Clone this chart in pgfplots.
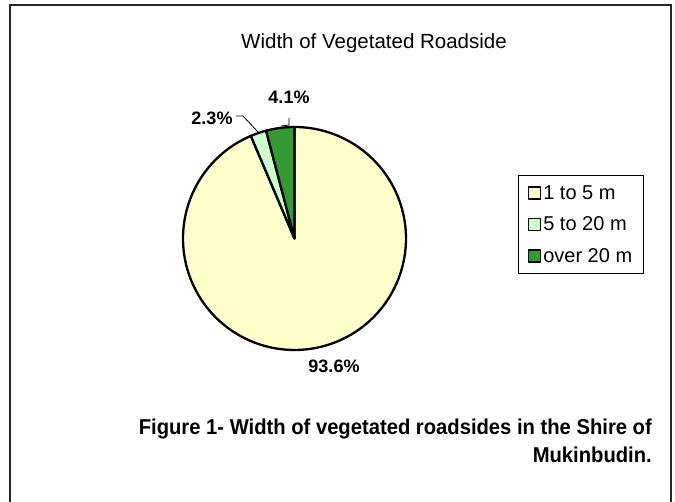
\documentclass[border=0pt]{standalone}
\usepackage{pgfplots}
\pgfplotsset{compat=1.18}
\usepackage{pgfplotstable}
\usepackage{fontspec}
\setmainfont{Liberation Sans}
\newfontfamily\capfont[FakeStretch=0.94]{Liberation Sans}

\definecolor{pieyellow}{HTML}{FFFFCC}
\definecolor{pielight}{HTML}{CCFFCC}
\definecolor{piedark}{HTML}{339933}

% share of roadside length in each width class (%)
\pgfplotstableread{
class value
A 93.6
B 2.3
C 4.1
}\widthdata

\begin{document}
\begin{tikzpicture}[x=1pt,y=1pt]
\useasboundingbox (0,0) rectangle (675,501);
\draw[line width=1.6pt, black!85] (10,496) rectangle (671,-10);

\pgfplotstablegetelem{0}{value}\of\widthdata \let\va\pgfplotsretval
\pgfplotstablegetelem{1}{value}\of\widthdata \let\vb\pgfplotsretval
\pgfplotstablegetelem{2}{value}\of\widthdata \let\vc\pgfplotsretval
% slices run clockwise from 12 o'clock
\pgfmathsetmacro\aEndA{90-3.6*\va}
\pgfmathsetmacro\aEndB{\aEndA-3.6*\vb}
\pgfmathsetmacro\aEndC{\aEndB-3.6*\vc}

\begin{axis}[
  hide axis, clip=false,
  x=111.5pt, y=111.5pt,
  xmin=-1, xmax=1, ymin=-1, ymax=1,
  anchor=origin, at={(294.5pt,262.5pt)},
  legend image code/.code={\draw[#1, line width=1.8pt] (-2pt,-6pt) rectangle (10pt,6pt);},
  legend style={at={(axis cs:2.0045,0.5695)}, anchor=north west,
    draw=black, line width=1pt, font=\fontsize{20}{20}\selectfont,
    cells={anchor=west}, row sep=12pt, inner xsep=9pt, inner ysep=8pt},
]
\addplot[fill=pieyellow, draw=black, line width=2.3pt, line join=round,
  domain=\aEndA:90, samples=150, variable=\t] ({cos(t)},{sin(t)}) -- (axis cs:0,0) -- cycle;
\addlegendentry{1 to 5 m}
\addplot[fill=pielight, draw=black, line width=2.3pt, line join=round,
  domain=\aEndB:\aEndA, samples=10, variable=\t] ({cos(t)},{sin(t)}) -- (axis cs:0,0) -- cycle;
\addlegendentry{5 to 20 m}
\addplot[fill=piedark, draw=black, line width=2.3pt, line join=round,
  domain=\aEndC:\aEndB, samples=12, variable=\t] ({cos(t)},{sin(t)}) -- (axis cs:0,0) -- cycle;
\addlegendentry{over 20 m}
\end{axis}

\node[font=\fontsize{20.5}{20.5}\selectfont] at (374,458) {Width of Vegetated Roadside};

\begin{scope}[font=\bfseries\fontsize{18}{18}\selectfont]
\node at (289,404) {4.1\%};
\node at (212,383) {2.3\%};
\node at (334,135) {93.6\%};
\end{scope}
\draw[line width=0.8pt] (236,385) -- (243,385) -- (258,369);
\draw[line width=0.8pt] (289,383) -- (289,376) -- (281,375);

\node[anchor=base east, inner sep=0pt, font=\capfont\bfseries\fontsize{21.5}{21.5}\selectfont]
  at (652,66.5) {Figure 1- Width of vegetated roadsides in the Shire of};
\node[anchor=base east, inner sep=0pt, font=\capfont\bfseries\fontsize{21.5}{21.5}\selectfont]
  at (652,38.5) {Mukinbudin.};
\end{tikzpicture}
\end{document}
